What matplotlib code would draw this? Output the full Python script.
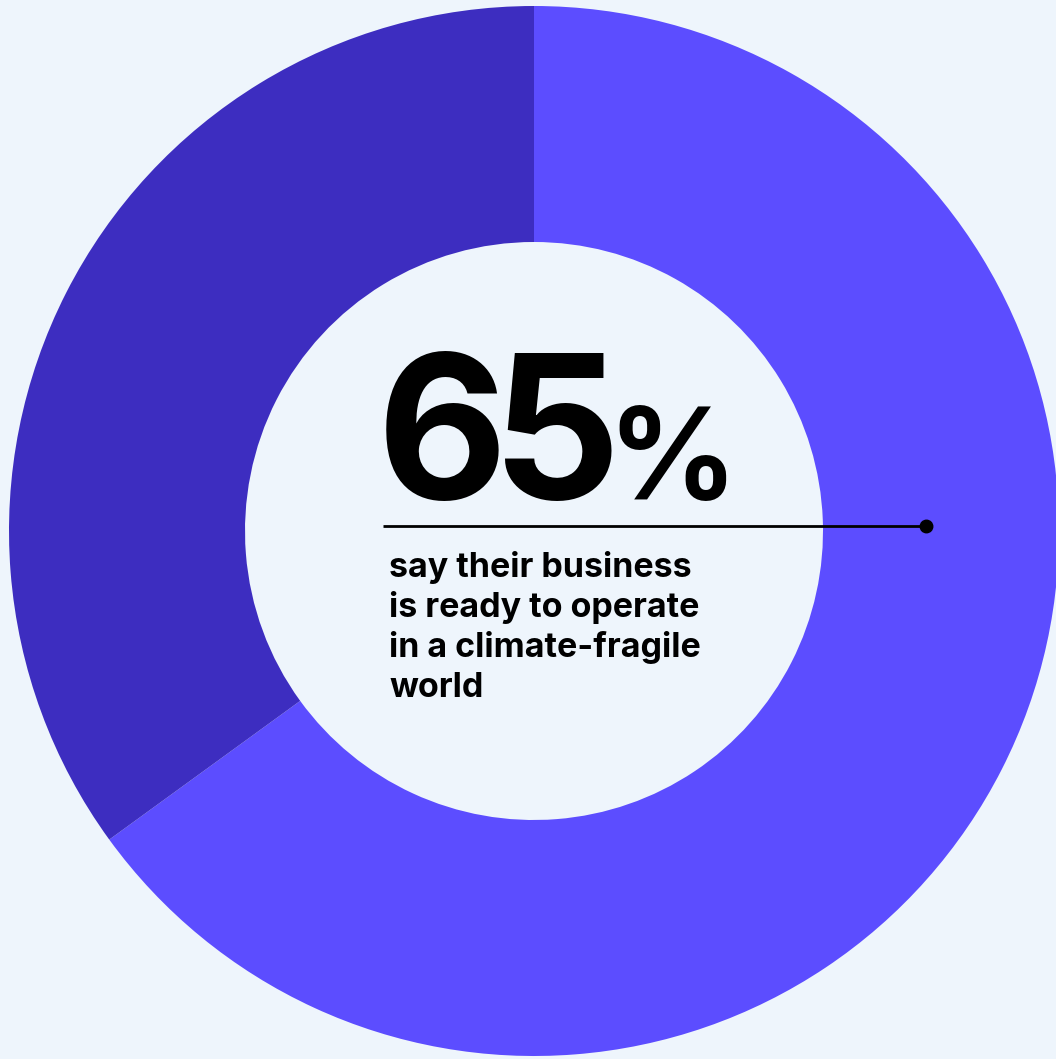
import matplotlib
matplotlib.use("Agg")
import matplotlib.pyplot as plt

# Data
labels = ["Ready", "Not ready"]
values = [65, 35]
colors = ["#5C4DFF", "#3D2DC0"]
big_number = "65"
big_suffix = "%"
caption_lines = ["say their business", "is ready to operate", "in a climate-fragile", "world"]

BG = "#EEF5FC"
W, H = 1056, 1059
fig = plt.figure(figsize=(W / 100, H / 100), dpi=100, facecolor=BG)
ax = fig.add_axes([0, 0, 1, 1])

def py(y):
    return H - y

cx, cy = 534, py(531)
R = 525
r_in = 289
ax.pie(values, colors=colors, startangle=90, counterclock=False,
       center=(cx, cy), radius=R, frame=True,
       wedgeprops=dict(width=R - r_in, linewidth=0, antialiased=True))
ax.set_xlim(0, W)
ax.set_ylim(0, H)
ax.set_aspect("equal")
ax.axis("off")

font = ["Inter", "DejaVu Sans"]
# big number, digits placed individually (tight tracking)
digit_centers = [442, 556]
for ch, xc in zip(big_number, digit_centers):
    ax.text(xc, py(499), ch, fontsize=145, fontweight="bold", family=font,
            color="black", ha="center", va="baseline")
ax.text(672, py(499), big_suffix, fontsize=92, fontweight="bold", family=font,
        color="black", ha="center", va="baseline")

ax.plot([383, 926], [py(526), py(526)], color="black", lw=2, solid_capstyle="butt")
ax.plot([926], [py(526)], "o", color="black", ms=9)

for i, line in enumerate(caption_lines):
    ax.text(389, py(577 + 40 * i), line, fontsize=24.5, fontweight="bold", family=font,
            color="black", ha="left", va="baseline")

fig.savefig("out.png", dpi=100, facecolor=BG)
